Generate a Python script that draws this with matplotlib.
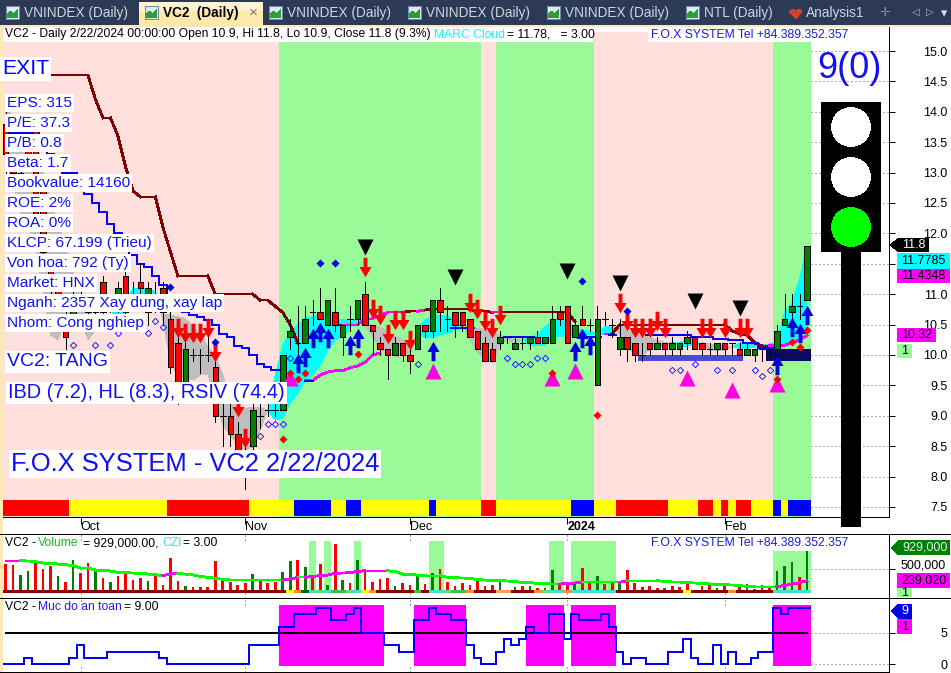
import matplotlib
matplotlib.use('Agg')
import matplotlib.pyplot as plt
import matplotlib.patches as patches
from matplotlib.path import Path
import numpy as np

plt.rcParams['font.family'] = ['Liberation Sans', 'DejaVu Sans']
plt.rcParams['lines.antialiased'] = False
plt.rcParams['patch.antialiased'] = False

nan = float('nan')

# daily bars, left part is mostly hidden behind the text boxes
opens = [13.8, 13.1, 12.9, 13.4, 13.7, 12.7, 11.4, 11.1, 10.6, 10.6, 11.0, 10.9, 10.7, 11.2, 10.9, 10.8, 11.3, 11.0,
         11.2, 10.7, 11.0, 11.1, 10.6, 10.2, 9.5, 10.0, 10.0, 10.0, 9.8, 9.0, 9.0, 8.7, 8.2, 8.5, 9.0, 9.1, 9.1, 9.1,
         10.3, 10.2, 10.2, 10.7, 10.7, 10.5, 10.7, 10.3, 10.6, 10.6, 11.0, 10.5, 10.2, 10.1, 10.0, 10.2, 10.0, 10.1,
         10.5, 10.4, 10.9, 10.6, 10.7, 10.7, 10.6, 10.4, 10.2, 10.1, 10.2, 10.3, 10.1, 10.2, 10.2, 10.3, 10.2, 10.2,
         10.7, 10.8, 10.3, 10.6, 10.5, 9.5, 10.6, 10.5, 10.1, 10.3, 10.2, 10.0, 10.2, 10.1, 10.2, 10.1, 10.1, 10.2,
         10.3, 10.2, 10.1, 10.1, 10.2, 10.2, 10.1, 10.0, 10.0, 10.1, 10.1, 10.1, 10.5, 10.7, 10.8, 10.9]
closes = [13.3, 13.0, 13.0, 13.3, 12.3, 11.7, 11.1, 11.0, 10.3, 10.9, 11.0, 10.7, 10.9, 10.7, 10.9, 11.1, 10.7, 11.0,
          11.1, 11.1, 11.0, 10.7, 9.8, 9.4, 10.1, 10.0, 10.0, 10.0, 9.0, 9.0, 8.7, 8.4, 8.2, 9.1, 9.0, 9.1, 9.1, 10.0,
          10.4, 10.2, 10.6, 10.7, 10.6, 10.9, 10.5, 10.5, 10.6, 10.9, 10.5, 10.4, 10.1, 10.0, 10.2, 10.0, 9.9, 10.5,
          10.4, 10.9, 10.7, 10.6, 10.5, 10.5, 10.3, 10.1, 9.9, 9.9, 10.3, 10.3, 10.2, 10.2, 10.3, 10.2, 10.3, 10.6,
          10.6, 10.2, 10.5, 10.5, 10.5, 10.6, 10.6, 10.5, 10.3, 10.1, 10.0, 10.0, 10.1, 10.2, 10.1, 10.2, 10.2, 10.3,
          10.1, 10.1, 10.1, 10.2, 10.1, 10.2, 10.0, 10.1, 10.1, 10.1, 10.1, 10.4, 10.6, 10.8, 10.8, 11.8]
highs = [14.0, 13.2, 13.1, 13.5, 13.8, 12.8, 11.6, 11.3, 10.7, 11.1, 11.2, 11.0, 11.0, 11.3, 11.0, 11.2, 11.5, 11.2,
         11.5, 11.2, 11.2, 11.2, 10.7, 10.3, 10.2, 10.1, 10.1, 10.3, 10.0, 9.2, 9.2, 8.9, 8.6, 9.2, 9.2, 9.2, 9.2, 10.0,
         10.6, 10.8, 10.8, 10.9, 11.1, 10.9, 11.1, 10.5, 10.8, 10.9, 11.2, 10.5, 10.3, 10.1, 10.3, 10.2, 10.1, 10.5,
         10.5, 10.9, 11.1, 10.8, 10.7, 10.7, 10.6, 10.4, 10.3, 10.2, 10.4, 10.3, 10.3, 10.3, 10.3, 10.4, 10.3, 10.8,
         10.8, 10.8, 10.6, 10.8, 10.6, 10.8, 10.7, 10.6, 10.6, 10.3, 10.2, 10.2, 10.2, 10.3, 10.2, 10.3, 10.2, 10.4,
         10.3, 10.2, 10.2, 10.2, 10.2, 10.2, 10.2, 10.2, 10.1, 10.1, 10.1, 10.5, 11.0, 11.0, 11.0, 11.8]
lows = [13.0, 12.8, 12.8, 13.2, 12.2, 11.6, 10.9, 10.8, 10.1, 10.4, 10.8, 10.4, 10.6, 10.6, 10.7, 10.7, 10.6, 10.8,
        10.9, 10.5, 10.7, 10.5, 9.7, 9.2, 9.4, 9.9, 9.7, 9.9, 8.9, 8.5, 8.5, 8.1, 7.8, 8.4, 8.8, 9.0, 9.0, 9.1,
        10.1, 10.0, 10.2, 10.5, 10.6, 10.5, 10.4, 10.0, 10.4, 10.5, 10.5, 10.0, 10.0, 9.6, 10.0, 9.9, 9.7, 10.1,
        10.3, 10.3, 10.4, 10.4, 10.3, 10.4, 10.3, 10.1, 9.9, 9.9, 10.1, 10.2, 10.1, 10.1, 10.1, 10.2, 10.2, 10.2,
        10.5, 10.2, 10.3, 10.5, 10.4, 9.5, 10.5, 10.3, 10.0, 9.9, 9.9, 9.9, 10.0, 10.1, 10.0, 10.0, 10.0, 10.1,
        10.1, 10.0, 10.0, 10.0, 10.0, 10.0, 10.0, 10.0, 9.9, 9.9, 10.0, 10.1, 10.5, 10.6, 10.6, 10.9]

bar_index = list(range(108))

# background regime runs (kind, bar count)
regime_runs = [('pink', 37), ('green', 27), ('pink', 2), ('green', 13), ('pink', 24), ('green', 5)]
strip_runs = [('red', 9), ('yellow', 13), ('red', 11), ('yellow', 6), ('blue', 5), ('yellow', 2), ('blue', 2),
              ('yellow', 9), ('blue', 1), ('yellow', 6), ('red', 2), ('yellow', 10), ('blue', 3), ('yellow', 3),
              ('red', 7), ('yellow', 4), ('red', 2), ('yellow', 1), ('red', 1), ('yellow', 1), ('red', 2),
              ('yellow', 3), ('blue', 1), ('yellow', 1), ('blue', 3)]

# cloud lines: cyan where a is above b, grey where a is below b
cloud_a = [13.21, 12.80, 12.34, 12.14, 11.73, 11.07, 10.33, 10.25, 10.58, 10.66, 10.58, 10.25, 10.41, 10.44, 10.6, 10.9,
           10.9, 11.09, 11.1, 11.1, 11.04, 10.58, 9.87, 9.67, 9.59, 9.59, 9.67, 9.69, 9.26, 8.85, 8.68, 8.52, 8.44, 8.49,
           8.77, 9.09, 9.67, 10.16, 10.36, 10.49, 10.6, 10.63, 10.66, 10.6, 10.59, 10.58, 10.58, 10.58, 10.46, 10.3,
           10.08, 10.02, 9.98, 9.98, 10.0, 10.41, 10.58, 10.64, 10.66, 10.64, 10.58, 10.49, 10.25, 10.05, 9.92, 9.88,
           10.16, 10.25, 10.2, 10.25, 10.28, 10.33, 10.46, 10.54, 10.6, 10.54, 10.44, 10.41, 10.38, 10.36, 10.46, 10.48,
           10.33, 10.16, 10.0, 10.0, 10.08, 10.11, 10.16, 10.2, 10.21, 10.25, 10.25, 10.14, 10.08, 10.07, 10.08, 10.13,
           10.2, 10.2, 10.18, 10.16, 10.18, 10.23, 10.69, 10.86, 11.23, 11.78]
cloud_b = [14.11, 13.90, 13.78, 13.73, 13.62, 13.01, 12.55, 12.14, 11.81, 11.37, 11.07, 10.74, 10.58, 10.49, 10.45, 10.5,
           10.74, 10.74, 10.74, 10.82, 10.9, 10.66, 10.66, 10.63, 10.6, 10.47, 10.33, 10.14, 10.0, 9.67, 9.26, 9.14, 9.12,
           9.14, 9.14, 9.09, 8.93, 8.96, 9.21, 9.37, 9.59, 9.67, 9.84, 10.08, 10.25, 10.3, 10.46, 10.58, 10.54, 10.49,
           10.46, 10.39, 10.3, 10.25, 10.2, 10.3, 10.3, 10.28, 10.33, 10.36, 10.41, 10.44, 10.44, 10.44, 10.42, 10.37,
           10.33, 10.28, 10.25, 10.25, 10.16, 10.16, 10.16, 10.3, 10.3, 10.33, 10.34, 10.34, 10.33, 10.34, 10.34, 10.34,
           10.5, 10.41, 10.36, 10.33, 10.28, 10.25, 10.21, 10.2, 10.13, 10.15, 10.16, 10.2, 10.18, 10.16, 10.15, 10.14,
           10.11, 10.11, 10.13, 10.15, 10.15, 10.16, 10.16, 10.2, 10.33, 10.41]

stop_line = [14.6] * 12 + [14.2, 13.9, 13.9, 13.6, 13.1, 12.7, 12.6, 12.6, 12.6, 12.1, 11.7] + [11.3] * 5 + [11.0] * 6 + \
    [10.9, 10.9, 10.8, 10.7, 10.5, 10.2] + [nan] * 4 + [10.5] * 4 + [10.6, 10.6, 10.65, 10.7, 10.7, 10.7, 10.72, 10.72, 10.74] + \
    [10.75] * 6 + [10.72, 10.72, 10.7] + [10.7] * 10 + [10.55] + [nan] * 3 + [10.35, 10.35] + [10.5] * 15 + \
    [10.4, 10.35, 10.33, 10.2, 10.15, 10.15] + [nan] * 5
stop_pink = [46, 47, 48, 49, 50, 51, 52, 53, 56, 66, 80, 81]

trail_line = [nan] * 40 + [9.58, 9.58, 9.67, 9.72, 9.74, 9.74, 9.79, 9.82, 9.88, 10.0, 10.03] + [nan] * 51 + \
    [10.15, 10.15, 10.16, 10.2, 10.25, 10.32]

blue_line = [13.65] * 5 + [13.5, 13.3, 13.15, 13.0, 13.0, 12.8, 12.65, 12.5, 12.35, 12.15, 12.0, 11.8, 11.65, 11.5, 11.45,
                           11.3, 11.15, 10.9, 10.8, 10.7, 10.66, 10.62, 10.57, 10.5, 10.35, 10.3, 10.15, 10.12, 10.0, 9.85,
                           9.8, 9.76, 9.75] + [nan] * 22 + [10.45] * 3 + [nan] * 4 + [10.3] * 4 + [nan] * 6 + [10.3] * 3 + \
    [nan, 10.33] + [nan] * 4 + [10.33] * 6 + [10.3] * 3 + [10.27] * 2 + [10.25] * 2 + [10.2] * 2 + [10.12] * 2 + [nan] * 5

red_arrow_i = [23, 24, 25, 26, 27, 28, 31, 32, 48, 49, 50, 51, 52, 53, 54, 62, 63, 64, 65, 66, 82, 83, 84, 85, 86, 87, 88,
               93, 94, 96, 98, 99]
red_arrow_p = [10.44, 10.36, 10.36, 10.36, 10.44, 10.05, 9.14, 8.64, 11.45, 10.76, 10.66, 10.35, 10.58, 10.58, 10.25, 10.86,
               10.76, 10.56, 10.44, 10.66, 10.86, 10.56, 10.44, 10.44, 10.44, 10.56, 10.44, 10.44, 10.44, 10.44, 10.44, 10.44]
blue_arrow_i = [39, 40, 41, 42, 43, 46, 47, 57, 76, 77, 78, 103, 105, 106, 107]
blue_arrow_p = [9.87, 9.97, 10.28, 10.38, 10.28, 10.16, 10.28, 10.07, 10.07, 10.28, 10.16, 9.84, 10.46, 10.36, 10.66]
black_tri_i = [48, 60, 75, 82, 92, 98]
black_tri_p = [11.78, 11.28, 11.38, 11.18, 10.89, 10.77]
pink_tri_i = [38, 57, 73, 76, 91, 97, 103]
pink_tri_p = [9.62, 9.74, 9.62, 9.74, 9.62, 9.42, 9.52]
red_dot_i = [37, 38, 39, 40, 47, 73, 79, 103, 105, 106, 107]
red_dot_p = [8.62, 9.70, 9.6, 9.70, 10.02, 9.70, 9.01, 9.6, 10.21, 10.13, 10.41]
blue_dot_i = [22, 28, 42, 44, 77, 83]
blue_dot_p = [11.12, 10.21, 11.51, 11.51, 11.22, 10.72]
hollow_i = [9, 12, 14, 15, 19, 20, 21, 34, 35, 36, 37, 38, 55, 67, 68, 69, 70, 71, 72, 89, 90, 92, 95, 97, 100, 101, 102]
hollow_p = [10.16, 10.16, 10.16, 10.36, 10.36, 10.56, 10.46, 8.67, 8.87, 8.87, 8.87, 9.95, 9.85, 9.95, 9.85, 9.85, 9.85,
            9.95, 9.95, 9.75, 9.75, 9.85, 9.75, 9.75, 9.75, 9.65, 9.75]

# sideways zones: first bar, last bar, low, high
zone_first = [85, 102]
zone_last = [98, 107]
zone_low = [9.9, 9.9]
zone_high = [10.0, 10.1]
zone_color = ['#4a4ad8', '#0a0a60']

price_ticks = [7.5, 8.0, 8.5, 9.0, 9.5, 10.0, 10.5, 11.0, 11.5, 12.0, 12.5, 13.0, 13.5, 14.0, 14.5, 15.0]
month_bars = [10, 32, 54, 75, 96]
month_labels = ['Oct', 'Nov', 'Dec', '2024', 'Feb']

# volume in thousands
volume = [626, 603, 371, 464, 719, 510, 580, 348, 209, 719, 418, 650, 487, 302, 209, 348, 394, 255, 302, 232, 348, 139,
          766, 232, 116, 93, 93, 93, 696, 302, 209, 139, 186, 394, 278, 186, 209, 441, 696, 719, 557, 302, 626, 139,
          1090, 255, 186, 719, 441, 209, 278, 302, 116, 186, 139, 371, 162, 418, 510, 209, 116, 186, 139, 232, 116,
          139, 232, 23, 93, 116, 116, 70, 70, 487, 162, 209, 162, 534, 232, 348, 162, 209, 186, 487, 186, 93, 116, 70,
          70, 116, 93, 209, 23, 116, 139, 70, 116, 23, 116, 162, 46, 139, 116, 464, 580, 673, 325, 929]
volume_green = [2, 3, 7, 9, 12, 14, 19, 24, 33, 37, 38, 40, 43, 45, 47, 52, 55, 57, 66, 68, 70, 72, 73, 76, 79, 82, 88, 95,
                99, 103, 104, 105, 107]
volume_ma = [703, 703, 703, 696, 680, 649, 642, 626, 611, 588, 533, 533, 487, 479, 464, 433, 425, 417, 410, 394, 379, 356,
             394, 402, 394, 371, 340, 317, 294, 271, 255, 255, 255, 255, 255, 255, 255, 255, 278, 317, 317, 340, 356, 371,
             410, 417, 425, 456, 471, 471, 471, 471, 448, 394, 379, 371, 356, 356, 356, 317, 309, 301, 294, 263, 255, 247,
             240, 232, 216, 201, 193, 178, 170, 162, 162, 178, 186, 201, 201, 201, 201, 201, 201, 240, 240, 240, 240, 240,
             224, 209, 209, 193, 186, 178, 162, 155, 147, 139, 124, 108, 100, 100, 100, 100, 131, 162, 193, 239]
volume_hot = [41, 43, 47, 57, 58, 73, 74, 76, 77, 78, 79, 80, 81]
volume_hot_end = [103, 104, 105, 106, 107]
volume_state_runs = [('#8b0000', 38), ('#ffff00', 1), ('#ff8c30', 1), ('#006400', 1), ('#40e0d0', 1), ('#66dd66', 1),
                     ('#40e0d0', 1), ('#40c040', 2), ('#66dd66', 1), ('#40e0d0', 1), ('#ffff00', 1), ('#ff8c30', 1),
                     ('#8b0000', 5), ('#40c040', 1), ('#8b0000', 1), ('#40e0d0', 2), ('#66dd66', 1), ('#40c040', 2),
                     ('#ff8c30', 1), ('#8b0000', 3), ('#ffa060', 2), ('#8b0000', 3), ('#ff8c30', 1), ('#66dd66', 1),
                     ('#40e0d0', 2), ('#ff8c30', 1), ('#40e0d0', 6), ('#8b0000', 9), ('#ffff00', 1), ('#8b0000', 5),
                     ('#ff8c30', 1), ('#8b0000', 5), ('#40e0d0', 5)]

# safety level
safety = [0, 0, 0, 1, 0, 0, 0, 0, 0, 1, 3, 1, 1, 1, 2, 2, 2, 2, 2, 2, 2, 1, 0, 0, 0, 0, 0, 0, 0, 0, 0, 0, 0, 3, 3, 3, 3,
          6, 6, 8, 8, 8, 9, 9, 7, 7, 8, 9, 5, 5, 5, 3, 3, 2, 2, 7, 7, 9, 8, 8, 7, 7, 3, 1, 0, 0, 2, 4, 3, 4, 6, 5, 5, 8, 8,
          4, 8, 7, 7, 7, 8, 6, 2, 0, 1, 1, 0, 0, 0, 2, 2, 4, 1, 0, 0, 3, 0, 2, 0, 0, 1, 2, 2, 9, 8, 9, 9, 9]

text_boxes = [('EPS: 315', 103), ('P/E: 37.3', 123), ('P/B: 0.8', 143), ('Beta: 1.7', 163), ('Bookvalue: 14160', 183),
              ('ROE: 2%', 203), ('ROA: 0%', 223), ('KLCP: 67.199 (Trieu)', 243), ('Von hoa: 792 (Ty)', 263),
              ('Market: HNX', 283), ('Nganh: 2357 Xay dung, xay lap', 303), ('Nhom: Cong nghiep', 323)]
tab_names = ['VNINDEX (Daily)', 'VNINDEX (Daily)', 'VNINDEX (Daily)', 'VNINDEX (Daily)', 'NTL (Daily)']
tab_text_x = [24, 287, 426, 565, 704]
tab_icon_x = [6, 269, 408, 547, 686]

W, H = 951, 673
LEFT, RIGHT = 3, 889
SMALL = 8.7
TICK = 9


def px_rect(t, b):
    return [LEFT / W, 1 - b / H, (RIGHT - LEFT) / W, (b - t) / H]


fig = plt.figure(figsize=(W / 100, H / 100), dpi=100, facecolor='white')
ax = fig.add_axes(px_rect(27, 517))
ax_vol = fig.add_axes(px_rect(534, 598), sharex=ax)
ax_lvl = fig.add_axes(px_rect(598, 672), sharex=ax)
ov = fig.add_axes([0, 0, 1, 1], zorder=10)
ov.set_xlim(0, W)
ov.set_ylim(H, 0)
ov.axis('off')
ov.patch.set_visible(False)

x = np.array(bar_index)
xlim = (-0.35, 117.95)
ax.set_xlim(*xlim)
ax.set_ylim(7.335, 15.395)
ax_vol.set_ylim(-162, 1322)
ax_lvl.set_ylim(-1.23, 10.57)

# main panel background
pos = -0.5
for kind, n in regime_runs:
    ax.fill_between([pos, pos + n], 7.335, 15.31, color='#ffe0dc' if kind == 'pink' else '#98fb98', lw=0, zorder=0.5)
    pos += n

pos = -0.5
strip_tr = ax.get_xaxis_transform()
for kind, n in strip_runs:
    ax.add_patch(patches.Rectangle((pos, 1 / 490), n, 16 / 490, transform=strip_tr, color=kind, lw=0, zorder=1.5))
    pos += n

a = np.array(cloud_a)
b = np.array(cloud_b)
ax.fill_between(x, a, b, where=a >= b, interpolate=True, color='#00ffff', lw=0, zorder=1)
ax.fill_between(x, a, b, where=a <= b, interpolate=True, color='#bebebe', lw=0, zorder=1)

for i in range(1, 108):
    ax.plot([i - 1, i], [stop_line[i - 1], stop_line[i]], color='#ff00ff' if i in stop_pink else '#800000', lw=1.3, zorder=2)
trail = np.array(trail_line)
ax.plot(x, trail, color='#ff00ff', lw=1.3, zorder=2)
ax.plot(x[40:42], trail[40:42], color='#0000ff', lw=1.3, zorder=2.1)
ax.plot(x, blue_line, color='#0000ff', lw=1.15, drawstyle='steps-mid', zorder=2)

for f, l, lo, hi, c in zip(zone_first, zone_last, zone_low, zone_high, zone_color):
    ax.fill_between([f - 0.5, l + 0.5], lo, hi, color=c, lw=0, zorder=2.5)

# candles
o = np.array(opens)
c = np.array(closes)
ax.vlines(x, lows, highs, color='black', lw=0.6, zorder=3)
colors = ['#008000' if cc > oo else '#ff0000' for oo, cc in zip(o, c)]
ax.bar(x, np.abs(c - o), bottom=np.minimum(o, c), width=0.74, color=colors, edgecolor='black', linewidth=0.6, zorder=3.1)

down_arrow = Path([(-0.2, 1), (0.2, 1), (0.2, 0.05), (0.62, 0.05), (0, -1), (-0.62, 0.05), (-0.2, 0.05), (-0.2, 1)], closed=True)
up_arrow = Path([(-0.2, -1), (0.2, -1), (0.2, -0.05), (0.62, -0.05), (0, 1), (-0.62, -0.05), (-0.2, -0.05), (-0.2, -1)], closed=True)
ax.plot(red_arrow_i, red_arrow_p, ls='', marker=down_arrow, ms=14, mfc='#ff0000', mec='none', zorder=4)
ax.plot(blue_arrow_i, blue_arrow_p, ls='', marker=up_arrow, ms=14, mfc='#0000e0', mec='none', zorder=4)
ax.plot(black_tri_i, black_tri_p, ls='', marker='v', ms=11, mfc='black', mec='none', zorder=4)
ax.plot(pink_tri_i, pink_tri_p, ls='', marker='^', ms=11, mfc='#ff00e0', mec='none', zorder=3.9)
ax.plot(red_dot_i, red_dot_p, ls='', marker='D', ms=3.6, mfc='#ff0000', mec='none', zorder=4.1)
ax.plot(blue_dot_i, blue_dot_p, ls='', marker='D', ms=3.6, mfc='#0000e0', mec='none', zorder=4.1)
ax.plot(hollow_i, hollow_p, ls='', marker='D', ms=3.2, mfc='none', mec='#2020ff', mew=0.7, zorder=4.1)

ax.hlines(price_ticks, 107.5, xlim[1], color='#b0b0b0', lw=0.8, linestyles=(0, (1, 2)), zorder=0.2)
ax.set_yticks(price_ticks)
# 11.5 sits under the value labels on the right
ax.set_yticklabels(['' if p == 11.5 else '%.1f' % p for p in price_ticks])
ax.set_xticks(month_bars)
ax.set_xticklabels(month_labels)
for t in ax.get_xticklabels():
    t.set_ha('left')
    t.set_fontsize(TICK)
    if t.get_text() == '2024':
        t.set_fontweight('bold')
ax.tick_params(axis='x', length=5, width=0.7, pad=-2, direction='out')

# volume panel
ax_vol.bar(volume_hot, [1160] * len(volume_hot), width=1, color='#98fb98', lw=0, zorder=1)
ax_vol.bar(volume_hot_end, [929] * len(volume_hot_end), width=1, color='#98fb98', lw=0, zorder=1)
vol_colors = ['#008000' if i in volume_green else '#ff0000' for i in bar_index]
ax_vol.bar(x, volume, width=0.36, color=vol_colors, lw=0, zorder=2)
pos = -0.5
for col, n in volume_state_runs:
    ax_vol.bar(pos + n / 2, 58, bottom=-38, width=n, color=col, lw=0, zorder=2.5)
    pos += n
for i in range(1, 108):
    rising = volume_ma[i] > volume_ma[i - 1] or (volume_ma[i] == volume_ma[i - 1] and (i < 3 or 48 < i < 52))
    ax_vol.plot([i - 1, i], [volume_ma[i - 1], volume_ma[i]], color='#ff00ff' if rising else '#00ff00', lw=1.3, zorder=3)
ax_vol.hlines([500], 107.5, xlim[1], color='#b0b0b0', lw=0.8, linestyles=(0, (1, 2)))
ax_vol.set_yticks([500])
ax_vol.set_yticklabels([''])

# safety panel
safety_arr = np.array(safety)
hot = x[safety_arr >= 5]
ax_lvl.bar(hot, [9.75] * len(hot), bottom=-0.25, width=1, color='#ff00ff', lw=0, zorder=1)
ax_lvl.plot([0, 107], [5, 5], color='black', lw=1.1, zorder=2)
ax_lvl.stairs(safety, np.arange(109) - 0.5, baseline=None, color='#0000ff', lw=1.15, zorder=3)
ax_lvl.hlines([0, 5], 107.5, xlim[1], color='#b0b0b0', lw=0.8, linestyles=(0, (1, 2)))
ax_lvl.set_yticks([0, 5])
ax_lvl.set_yticklabels(['0', '5'])

for A in (ax, ax_vol, ax_lvl):
    A.yaxis.tick_right()
    A.tick_params(axis='y', length=4, width=0.7, pad=38, labelsize=TICK)
    for t in A.get_yticklabels():
        t.set_ha('right')
    for s in ('top', 'left', 'bottom'):
        A.spines[s].set_visible(False)
    A.spines['right'].set_linewidth(0.7)
ax.spines['bottom'].set_visible(True)
ax.spines['bottom'].set_linewidth(0.7)
for A in (ax_vol, ax_lvl):
    A.tick_params(axis='x', length=0, labelbottom=False)
    tr = A.get_xaxis_transform()
    A.vlines(month_bars, 0.9, 1.0, transform=tr, color='#a0a0a0', lw=0.8, linestyles=(0, (1, 2)), zorder=0.2)
    A.vlines(month_bars, 0.0, 0.08, transform=tr, color='#a0a0a0', lw=0.8, linestyles=(0, (1, 2)), zorder=0.2)

# window chrome
NAVY = '#2c3a56'
ov.add_patch(patches.Rectangle((0, 0), W, 25, color=NAVY, lw=0))
ov.add_patch(patches.Rectangle((0, 25), W, 2, color='#fbe9b7', lw=0))
ov.add_patch(patches.Rectangle((0, 25), 3, H - 25, color='#fbe9b7', lw=0))
ov.add_patch(patches.Rectangle((139, 2), 124, 23, color='#ffe9aa', lw=0))
ov.add_patch(patches.Rectangle((139, 2), 124, 9, color='#fff4cf', lw=0))


def icon(left):
    ov.add_patch(patches.Rectangle((left, 6), 13, 13, fc='#dfe8f5', ec='#7088b0', lw=0.6))
    ov.add_patch(patches.Polygon([(left + 1, 18), (left + 1, 14), (left + 5, 11), (left + 8, 14), (left + 12, 9), (left + 12, 18)],
                                 color='#2f9a3a', lw=0))


for name, tx, ix in zip(tab_names, tab_text_x, tab_icon_x):
    icon(ix)
    ov.text(tx, 13, name, color='#cfd6e2', fontsize=9.8, va='center')
icon(145)
ov.text(163, 13, 'VC2  (Daily)', color='black', fontsize=9.8, fontweight='bold', va='center')
ov.text(253, 13, '×', color='#777777', fontsize=11, va='center', ha='center')
ov.add_patch(patches.Polygon([(789, 11), (793, 9), (796, 11), (799, 9), (802, 11), (796, 19)], color='#d04030', lw=0))
ov.text(806, 13, 'Analysis1', color='#cfd6e2', fontsize=9.8, va='center')
ov.text(885, 13, '✛', color='#8090a8', fontsize=9, va='center', ha='center', family=['DejaVu Sans'])
ov.text(916, 12, '◁', color='#b8c0d0', fontsize=7, va='center', ha='center', family=['DejaVu Sans'])
ov.text(930, 12, '▷', color='#b8c0d0', fontsize=7, va='center', ha='center', family=['DejaVu Sans'])
ov.text(944, 14, '▾', color='#d8dee8', fontsize=9, va='center', ha='center', family=['DejaVu Sans'])

# header rows
ov.add_patch(patches.Rectangle((3, 27), 590, 15, color='white', lw=0))
ov.add_patch(patches.Rectangle((648, 28), 199, 14, color='white', lw=0))
ov.text(5, 34.5, 'VC2 - Daily 2/22/2024 00:00:00 Open 10.9, Hi 11.8, Lo 10.9, Close 11.8 (9.3%)', fontsize=SMALL, va='center')
ov.text(434, 34.5, 'MARC Cloud', color='#20f0f8', fontsize=SMALL, va='center')
ov.text(507, 34.5, '= 11.78,   = 3.00', fontsize=SMALL, va='center')
ov.text(651, 34.5, 'F.O.X SYSTEM Tel +84.389.352.357', color='#1a1ae6', fontsize=SMALL, va='center')
ov.text(651, 543, 'F.O.X SYSTEM Tel +84.389.352.357', color='#1a1ae6', fontsize=SMALL, va='center')
ov.text(5, 543, 'VC2 - ', fontsize=SMALL, va='center')
ov.text(38, 543, 'Volume', color='#22b422', fontsize=SMALL, va='center')
ov.text(83, 543, '= 929,000.00,', fontsize=SMALL, va='center')
ov.text(162, 543, 'CZI', color='#40d8d8', fontsize=SMALL, va='center')
ov.text(183, 543, '= 3.00', fontsize=SMALL, va='center')
ov.text(5, 607, 'VC2 - ', fontsize=SMALL, va='center')
ov.text(38, 607, 'Muc do an toan', color='#2020e0', fontsize=SMALL, va='center')
ov.text(124, 607, '= 9.00', fontsize=SMALL, va='center')

box = dict(fc='white', ec='none', pad=1.5)
ov.text(2, 69, 'EXIT', color='#0000ff', fontsize=15.2, va='center', bbox=box)
for label, ty in text_boxes:
    ov.text(7, ty, label, color='#1010f0', fontsize=11.1, va='center', bbox=box)
ov.text(7, 362, 'VC2: TANG', color='#1010f0', fontsize=14, va='center', bbox=box)
ov.text(8, 393, 'IBD (7.2), HL (8.3), RSIV (74.4)', color='#1010f0', fontsize=14.3, va='center', bbox=box)
ov.text(11, 464, 'F.O.X SYSTEM - VC2 2/22/2024', color='#1010f0', fontsize=18.4, va='center', bbox=box)
ov.text(849, 68, '9(0)', color='#1010f0', fontsize=26, va='center', ha='center')

# traffic light
ov.add_patch(patches.Rectangle((821, 102), 60, 150, color='black', lw=0))
ov.add_patch(patches.Rectangle((841, 252), 20, 275, color='black', lw=0))
for cy, col in zip([127, 177, 227], ['white', 'white', '#00ff00']):
    ov.add_patch(patches.Circle((851, cy), 19.3, color=col, lw=0))

# right side value labels
ov.add_patch(patches.Polygon([(890, 245), (899, 238), (929, 238), (929, 252), (899, 252)], color='black', lw=0))
ov.text(914, 245, '11.8', color='white', fontsize=TICK, va='center', ha='center')
ov.text(946, 566, '500,000', fontsize=TICK, va='center', ha='right')
for t, l, top, r, bot, fc, tc in [('11.7785', 897, 253, 950, 269, '#00ffff', 'black'),
                                  ('11.4348', 897, 269, 950, 283, '#ff00ff', 'black'),
                                  ('10.32', 897, 328, 936, 342, '#ff00ff', 'black'),
                                  ('1', 897, 344, 912, 358, '#98fb98', 'black'),
                                  ('239,020', 897, 573, 950, 588, '#ff00ff', 'black'),
                                  ('1', 897, 588, 912, 597, '#98fb98', 'black'),
                                  ('1', 897, 619, 912, 634, '#ff00ff', 'black')]:
    ov.add_patch(patches.Rectangle((l, top), r - l, bot - top, color=fc, lw=0))
    ov.text((l + r) / 2, (top + bot) / 2, t, color=tc, fontsize=TICK, va='center', ha='center')
ov.add_patch(patches.Polygon([(891, 548), (899, 540), (950, 540), (950, 555), (899, 555)], color='#008000', lw=0))
ov.text(925, 548, '929,000', color='#f0f0f0', fontsize=TICK, va='center', ha='center')
ov.add_patch(patches.Polygon([(891, 611), (899, 604), (912, 604), (912, 619), (899, 619)], color='#0000e0', lw=0))
ov.text(905, 611.5, '9', color='white', fontsize=TICK, va='center', ha='center')

# panel separators
ov.plot([0, W], [534, 534], color='black', lw=0.7)
ov.plot([0, W], [598, 598], color='black', lw=0.7)
ov.plot([0, RIGHT], [672, 672], color='black', lw=0.7)

fig.savefig('out.png', dpi=100)
